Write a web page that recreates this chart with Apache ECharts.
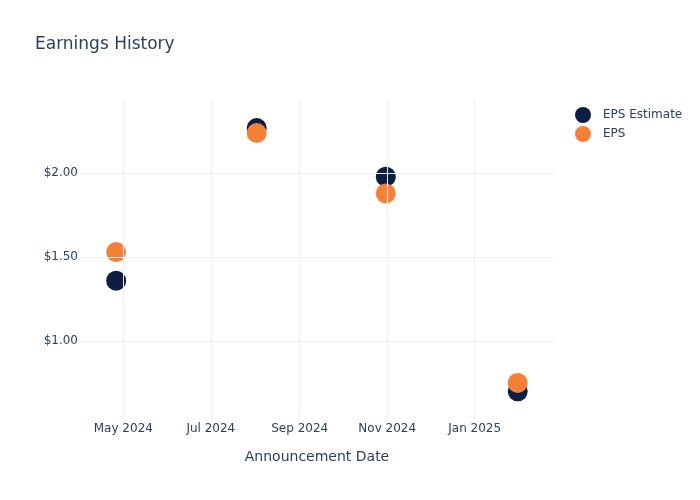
<!DOCTYPE html>
<html>
<head>
<meta charset="utf-8">
<script src="https://cdn.jsdelivr.net/npm/echarts@6/dist/echarts.min.js"></script>
<style>
html,body{margin:0;padding:0;background:#fff;}
#chart{width:700px;height:500px;}
</style>
</head>
<body>
<div id="chart"></div>
<script>
const dates = ['2024-04-26', '2024-08-02', '2024-10-31', '2025-01-31'];
const epsEstimate = [1.36, 2.27, 1.98, 0.70];
const eps = [1.53, 2.24, 1.88, 0.75];
const xTicks = ['2024-05-01', '2024-07-01', '2024-09-01', '2024-11-01', '2025-01-01'];
const yTicks = [1.0, 1.5, 2.0];
const monthNames = ['Jan','Feb','Mar','Apr','May','Jun','Jul','Aug','Sep','Oct','Nov','Dec'];

const textColor = '#2a3f5f';
const gridColor = '#ebf0f8';
const font = 'DejaVu Sans, Verdana, sans-serif';

function ts(s){ return new Date(s + 'T00:00:00Z').getTime(); }
const xTickTs = xTicks.map(ts);

const chart = echarts.init(document.getElementById('chart'));
chart.setOption({
  animation: false,
  backgroundColor: '#fff',
  textStyle: { fontFamily: font },
  title: {
    text: 'Earnings History',
    left: 35, top: 36, padding: 0,
    textStyle: { fontFamily: font, fontSize: 17, fontWeight: 'normal', color: textColor }
  },
  legend: {
    orient: 'vertical',
    left: 575, top: 107, padding: 0,
    itemWidth: 16, itemHeight: 16, itemGap: 3,
    icon: 'circle',
    textStyle: { fontFamily: font, fontSize: 12, color: textColor, padding: [0,0,0,7] },
    data: ['EPS Estimate', 'EPS']
  },
  grid: { left: 80, right: 146, top: 100, bottom: 80, containLabel: false },
  xAxis: {
    type: 'value',
    scale: true,
    min: ts('2024-04-01') - 5*3600*1000,
    max: ts('2025-02-25') + 7*3600*1000,
    name: 'Announcement Date',
    nameLocation: 'middle',
    nameGap: 30,
    nameTextStyle: { fontFamily: font, fontSize: 14, color: textColor },
    axisLine: { show: false },
    axisTick: { show: false },
    splitLine: { show: false },
    axisLabel: {
      customValues: xTickTs,
      margin: 3,
      fontFamily: font, fontSize: 12, color: textColor,
      formatter: function (v) {
        const d = new Date(v);
        return monthNames[d.getUTCMonth()] + ' ' + d.getUTCFullYear();
      }
    }
  },
  yAxis: {
    type: 'value',
    min: 0.529,
    max: 2.437,
    axisLine: { show: false },
    axisTick: { show: false },
    splitLine: { show: false },
    axisLabel: {
      customValues: yTicks,
      margin: 2,
      fontFamily: font, fontSize: 12, color: textColor,
      formatter: function (v) { return '$' + v.toFixed(2); }
    }
  },
  series: [
    {
      name: 'grid',
      type: 'line',
      data: [],
      silent: true,
      markLine: {
        symbol: 'none', silent: true, label: { show: false },
        lineStyle: { color: gridColor, width: 1, type: 'solid' },
        data: xTickTs.map(t => ({ xAxis: t })).concat(yTicks.map(v => ({ yAxis: v })))
      }
    },
    {
      name: 'EPS Estimate',
      type: 'scatter',
      symbolSize: 20,
      itemStyle: { color: '#0c1f42', opacity: 1 },
      data: dates.map((d, i) => [ts(d), epsEstimate[i]])
    },
    {
      name: 'EPS',
      type: 'scatter',
      symbolSize: 20,
      itemStyle: { color: '#f58138', opacity: 1 },
      data: dates.map((d, i) => [ts(d), eps[i]])
    }
  ]
});
</script>
</body>
</html>
